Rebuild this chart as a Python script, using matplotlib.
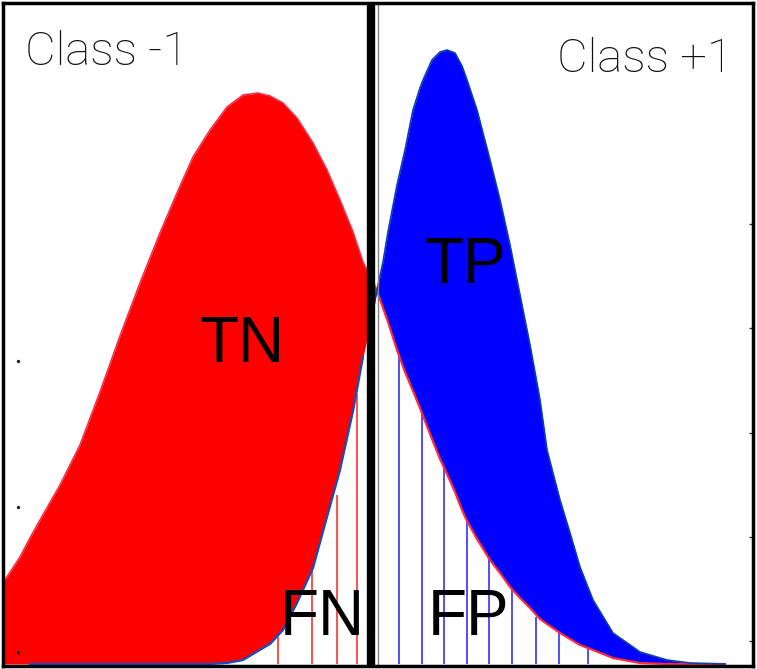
import numpy as np
import matplotlib
matplotlib.use("Agg")
import matplotlib.pyplot as plt

# shared score grid (decision threshold at 0)
x = np.array([-3.69, -3.52, -3.42, -3.32, -3.12, -2.92, -2.72, -2.52, -2.32, -2.12,
              -1.95, -1.79, -1.62, -1.45, -1.29, -1.14, -1.02, -0.89, -0.75, -0.59,
              -0.45, -0.32, -0.19, -0.09, 0.00, 0.05, 0.11, 0.16, 0.25, 0.33,
              0.41, 0.48, 0.51, 0.60, 0.68, 0.75, 0.83, 0.90, 0.95, 1.05, 1.18,
              1.28, 1.38, 1.48, 1.58, 1.68, 1.75, 1.88, 1.98, 2.08, 2.21, 2.41,
              2.68, 2.95, 3.18, 3.53])

# class -1 density
neg = np.array([0.81, 1.07, 1.26, 1.44, 1.79, 2.19, 2.72, 3.28, 3.81, 4.31,
                4.71, 5.07, 5.34, 5.57, 5.69, 5.71, 5.68, 5.61, 5.46, 5.21,
                4.94, 4.64, 4.32, 4.02, 3.84, 3.73, 3.56, 3.42, 3.14, 2.92,
                2.73, 2.56, 2.48, 2.25, 2.05, 1.90, 1.72, 1.54, 1.43, 1.25, 1.04,
                0.91, 0.77, 0.66, 0.56, 0.45, 0.40, 0.31, 0.25, 0.19, 0.14, 0.06,
                0.01, 0.00, 0.00, 0.00])

# class +1 density
pos = np.array([np.nan, np.nan, 0.00, 0.00, 0.00, 0.00, 0.00, 0.00, 0.00, 0.00,
                0.00, 0.00, 0.00, 0.01, 0.04, 0.13, 0.20, 0.34, 0.61, 0.96,
                1.47, 1.94, 2.53, 3.07, 3.48, 3.74, 4.02, 4.32, 4.79, 5.14,
                5.54, 5.76, 5.84, 6.04, 6.12, 6.14, 6.11, 5.98, 5.84, 5.54, 5.04,
                4.64, 4.19, 3.69, 3.19, 2.64, 2.14, 1.64, 1.31, 0.97, 0.64, 0.31,
                0.12, 0.04, 0.01, 0.00])

threshold = 0.0

# hatch lines (FN under class +1, FP under class -1)
fn_x = [-0.94, -0.60, -0.35, -0.15]
fn_top = [0.27, 0.94, 1.69, 2.70]
fp_x = [0.27, 0.50, 0.72, 0.95, 1.17, 1.40, 1.64, 1.87, 2.16]
fp_top = [3.08, 2.50, 2.00, 1.43, 1.07, 0.77, 0.47, 0.31, 0.16]

right_ticks = [4.40, 3.36, 2.31, 1.27, 0.23]
left_ticks = [3.03, 1.57, 0.12]

fig = plt.figure(figsize=(7.57, 6.69), dpi=100)
ax = fig.add_axes([3 / 757, 3 / 669, 750 / 757, 663 / 669])
ax.set_xlim(-3.69, 3.81)
ax.set_ylim(-0.02, 6.61)

pos0 = np.nan_to_num(pos)
left = x <= threshold + 1e-9
right = x >= threshold - 1e-9

# TN: class -1 above class +1, left of threshold
ax.fill_between(x, pos0, neg, where=left & (neg >= pos0), interpolate=True,
                color="#ff0000", lw=0)
# TP: class +1 above class -1, right of threshold
ax.fill_between(x, neg, pos0, where=right & (pos0 >= neg), interpolate=True,
                color="#0000ff", lw=0)

ax.vlines(fn_x, 0, fn_top, color="#ff2020", lw=1.1)
ax.vlines(fp_x, 0, fp_top, color="#2020ff", lw=1.1)

# curve outlines
ax.plot(x[left], neg[left], color="#f0304a", lw=1.2)
ax.plot(x[right], neg[right], color="#ff2a3a", lw=1.6)
ax.plot(x[~right], pos[~right], color="#1050c0", lw=1.6)
ax.plot(x[right], pos[right], color="#0a3fb0", lw=1.2)

ax.axvline(threshold - 0.01, color="black", lw=6)
ax.axvline(threshold + 0.06, color="#808080", lw=1)

# leftover tick dots on the left side
ax.scatter([0.02] * len(left_ticks), left_ticks, s=2, color="#222222",
           transform=ax.get_yaxis_transform(), zorder=5)

ax.text(0.029, 0.906, "Class -1", transform=ax.transAxes, family="Roboto",
        weight="light", fontsize=34, color="#111111", ha="left", va="baseline")
ax.text(0.973, 0.896, "Class +1", transform=ax.transAxes, family="Roboto",
        weight="light", fontsize=34, color="#111111", ha="right", va="baseline")

big = dict(family="Liberation Sans", fontsize=46, color="black", va="baseline")
ax.text(-1.72, 3.02, "TN", **big)
ax.text(0.53, 3.81, "TP", **big)
ax.text(-0.92, 0.29, "FN", **big)
ax.text(0.56, 0.29, "FP", **big)

ax.set_xticks([])
ax.set_yticks([])
sec = ax.secondary_yaxis("right")
sec.set_yticks(right_ticks)
sec.set_yticklabels([])
sec.tick_params(direction="in", length=3, width=1, color="#333333")

for s in ax.spines.values():
    s.set_color("black")
    s.set_linewidth(2.5)
sec.spines["right"].set_visible(False)

fig.savefig("out.png", dpi=100, facecolor="white")
